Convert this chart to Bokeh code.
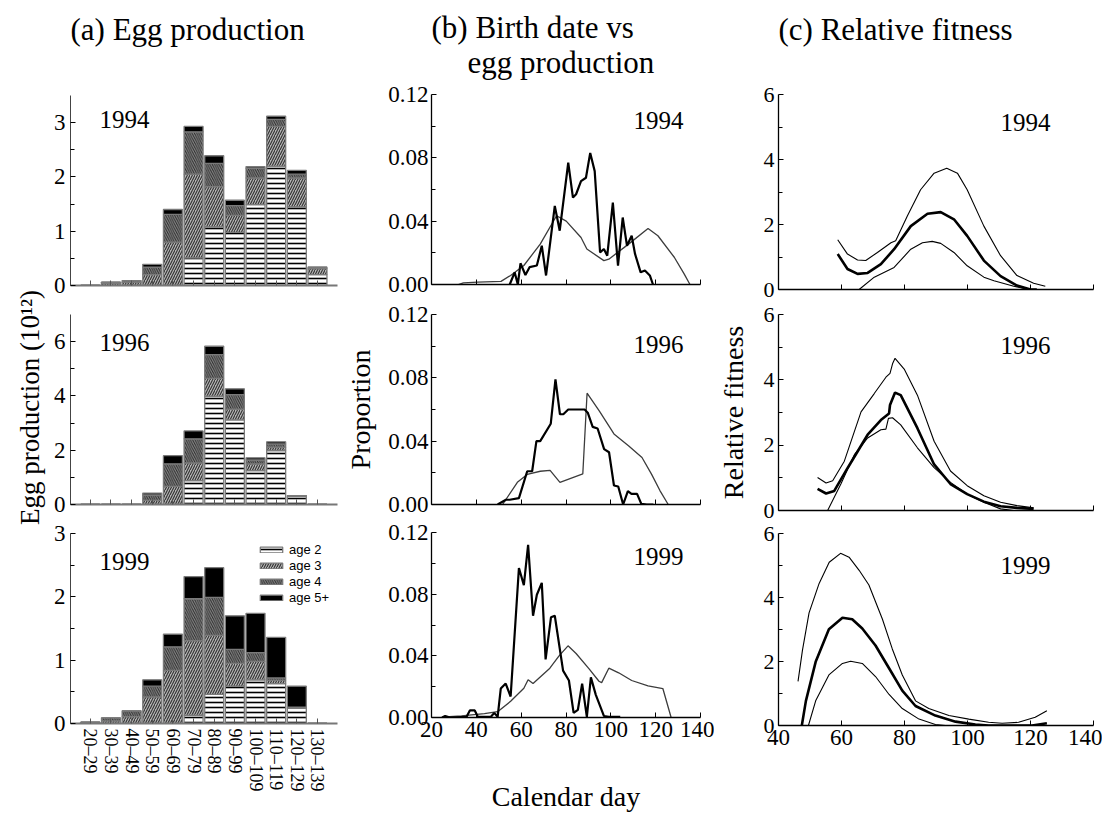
from bokeh.plotting import figure
from bokeh.layouts import row, column
from bokeh.models import (Range1d, FixedTicker, Label, Legend, LegendItem,
                          PrintfTickFormatter)
from bokeh.embed import file_html
from bokeh.resources import INLINE

SERIF = "Liberation Serif"
SANS = "Liberation Sans"

# ---------------- data: (a) egg production by age group (10^12) ----------------
age_groups = ["20–29", "30–39", "40–49", "50–59", "60–69", "70–79", "80–89",
              "90–99", "100–109", "110–119", "120–129", "130–139"]
ages = ["age 2", "age 3", "age 4", "age 5+"]
years = ["1994", "1996", "1999"]

egg94_age2 = [0, 0, 0, 0, 0, 0.51, 1.08, 0.98, 1.49, 2.20, 1.45, 0.20]
egg94_age3 = [0, 0.04, 0.06, 0.20, 0.80, 1.54, 0.74, 0.31, 0.49, 0.73, 0.53, 0.11]
egg94_age4 = [0, 0.02, 0.03, 0.14, 0.51, 0.78, 0.43, 0.18, 0.18, 0.13, 0.07, 0.03]
egg94_age5 = [0, 0, 0, 0.05, 0.09, 0.10, 0.14, 0.10, 0.03, 0.06, 0.07, 0]

egg96_age2 = [0, 0, 0, 0, 0, 0.88, 3.99, 3.12, 1.25, 1.99, 0.31, 0]
egg96_age3 = [0, 0, 0, 0.15, 0.67, 0.65, 0.66, 0.39, 0.25, 0.12, 0, 0]
egg96_age4 = [0, 0, 0, 0.20, 0.83, 0.89, 0.87, 0.54, 0.14, 0.12, 0, 0]
egg96_age5 = [0, 0, 0, 0.07, 0.30, 0.29, 0.31, 0.21, 0.08, 0.08, 0.02, 0]

egg99_age2 = [0, 0, 0, 0, 0, 0.13, 0.46, 0.59, 0.69, 0.63, 0.24, 0]
egg99_age3 = [0.02, 0.04, 0.11, 0.42, 0.84, 1.18, 0.93, 0.36, 0.29, 0.05, 0.02, 0]
egg99_age4 = [0, 0.05, 0.09, 0.17, 0.37, 0.66, 0.60, 0.22, 0.14, 0.04, 0, 0]
egg99_age5 = [0, 0, 0, 0.10, 0.20, 0.35, 0.47, 0.53, 0.62, 0.64, 0.33, 0]

# ---------------- data: (b) birth date (thick) vs egg production (thin) ----------------
birth94_day = [54.9, 57.1, 58.5, 59.7, 61.9, 63.8, 67.0, 69.2, 71.1, 75.0, 77.2, 81.0, 83.1,
               84.5, 86.7, 88.9, 90.8, 92.8, 95.2, 96.9, 98.4, 100.9, 103.2, 105.3, 107.2,
               109.3, 110.8, 113.3, 115.2, 117.4, 118.8]
birth94_prop = [0, 0.0077, 0, 0.0134, 0.006, 0.011, 0.012, 0.0245, 0.0057, 0.0496, 0.034,
                0.0769, 0.0549, 0.057, 0.0653, 0.0674, 0.0831, 0.0716, 0.0203, 0.0224, 0.0182,
                0.0517, 0.0119, 0.0423, 0.0245, 0.0308, 0.0193, 0.0077, 0.0088, 0.0057, 0]
eggp94_day = [32, 34.2, 40.7, 51, 55.3, 61.2, 68.5, 75.8, 80.1, 86.7, 89.3, 96.9, 99.1,
              107.9, 116.6, 121, 128.3, 132.7, 135.3]
eggp94_prop = [0, 0.001, 0.0015, 0.002, 0.0057, 0.012, 0.0255, 0.0434, 0.040, 0.0297, 0.0224,
               0.0151, 0.016, 0.0255, 0.0354, 0.0308, 0.0172, 0.0067, 0]

birth96_day = [49.5, 53.2, 54.9, 59.0, 62.7, 64.9, 66.8, 68.5, 73.2, 75.3, 77.3, 78.8, 81.0,
               84.6, 88.3, 89.7, 91.9, 94.1, 97.0, 99.2, 101.4, 103.3, 105.5, 107.6, 109.2,
               111.7, 113.6, 116.0, 119.0]
birth96_prop = [0, 0.003, 0.003, 0.004, 0.021, 0.021, 0.040, 0.040, 0.051, 0.079, 0.057,
                0.057, 0.060, 0.060, 0.060, 0.058, 0.049, 0.048, 0.035, 0.033, 0.012, 0.0114,
                0, 0.0084, 0.0067, 0.0067, 0.0004, 0, 0]
eggp96_day = [51.7, 58.3, 62.7, 68.5, 72.9, 77.3, 87.5, 89.4, 94.9, 101.4, 108.0, 113.9,
              118.2, 121.9, 125.6]
eggp96_prop = [0, 0.014, 0.019, 0.021, 0.0215, 0.014, 0.0194, 0.0703, 0.059, 0.0446, 0.037,
               0.0297, 0.019, 0.0088, 0]

birth99_day = [24.7, 26.1, 28.3, 35.6, 37.1, 39.3, 40.7, 46.6, 48.0, 49.5, 50.9, 53.1, 55.3,
               59.0, 61.2, 63.1, 65.3, 67.0, 69.2, 70.9, 73.3, 75.0, 78.7, 81.3, 83.4, 85.3,
               87.2, 89.3, 91.1, 93.3, 96.9, 99.1, 104.2]
birth99_prop = [0, 0.001, 0, 0.0004, 0.0046, 0.0046, 0.0004, 0.0006, 0.003, 0.0004, 0.0188,
                0.022, 0.0136, 0.097, 0.0859, 0.112, 0.066, 0.0796, 0.0873, 0.0377, 0.065,
                0.066, 0.0304, 0.024, 0.003, 0.005, 0.022, 0.0004, 0.026, 0.0147, 0.001,
                0.0004, 0.0004]
eggp99_day = [26.1, 33.4, 43.6, 49.5, 55.3, 61.2, 63.1, 65.3, 72.8, 76.9, 80.9, 84.5, 90.4,
              94.7, 95.9, 99.1, 103.5, 109.3, 116.6, 123.2, 126.9]
eggp99_prop = [0.0004, 0.001, 0.0025, 0.0038, 0.0105, 0.019, 0.0245, 0.022, 0.032, 0.040,
               0.0465, 0.0415, 0.0314, 0.0235, 0.0226, 0.032, 0.029, 0.024, 0.0205, 0.0188, 0]

# ---------------- data: (c) relative fitness (mean thick, bounds thin) ----------------
fit94_up_day = [58.8, 61.9, 65.1, 67.7, 71.4, 75.7, 77.2, 80.9, 85.1, 89.4, 93.4, 96.8, 99.9,
                105.2, 110.5, 115.7, 121.0, 124.7]
fit94_up = [1.53, 1.09, 0.91, 0.89, 1.14, 1.44, 1.50, 2.26, 3.07, 3.58, 3.73, 3.58, 3.07,
            1.95, 1.04, 0.43, 0.19, 0.10]
fit94_mid_day = [58.8, 61.9, 65.1, 68.3, 72.5, 76.7, 82.0, 87.3, 91.5, 95.7, 99.9, 105.2,
                 110.5, 115.7, 120.0, 122.0]
fit94_mid = [1.09, 0.63, 0.48, 0.51, 0.78, 1.24, 1.95, 2.33, 2.38, 2.16, 1.65, 0.89, 0.41,
             0.12, 0, 0]
fit94_lo_day = [65.6, 70.4, 76.7, 82.0, 85.7, 88.8, 91.5, 95.7, 99.9, 105.2, 108.4, 114.7, 119.4]
fit94_lo = [0, 0.38, 0.68, 1.24, 1.44, 1.48, 1.42, 1.14, 0.73, 0.38, 0.27, 0.10, 0]

fit96_up_day = [52.4, 55.1, 57.2, 60.9, 66.2, 70.4, 74.1, 75.4, 76.2, 77.0, 79.9, 84.1, 89.4,
                94.6, 99.9, 105.2, 110.5, 115.7, 121.0]
fit96_up = [1.01, 0.84, 0.91, 1.51, 3.02, 3.58, 4.08, 4.20, 4.49, 4.66, 4.33, 3.53, 2.12,
            1.21, 0.76, 0.45, 0.25, 0.15, 0.08]
fit96_mid_day = [52.4, 55.1, 57.7, 62.0, 68.3, 72.5, 75.1, 75.4, 77.0, 78.8, 84.1, 89.4, 94.6,
                 99.9, 105.2, 110.5, 115.7, 121.0]
fit96_mid = [0.66, 0.52, 0.60, 1.31, 2.32, 2.77, 2.97, 3.23, 3.61, 3.53, 2.52, 1.41, 0.81,
             0.50, 0.27, 0.13, 0.08, 0.05]
fit96_lo_day = [55.6, 59.8, 64.1, 68.3, 72.5, 74.1, 74.9, 76.2, 78.8, 84.1, 89.4, 94.6, 99.9,
                105.2, 110.5, 114.7, 121.0]
fit96_lo = [0, 0.81, 1.71, 2.22, 2.47, 2.49, 2.82, 2.84, 2.62, 1.92, 1.31, 0.86, 0.50, 0.25,
            0.05, 0, 0]

fit99_up_day = [46.2, 47.6, 49.7, 52.9, 56.1, 59.7, 62.4, 65.6, 68.7, 73.0, 76.1, 79.3, 83.5,
                87.7, 94.1, 100.4, 106.7, 111.0, 116.2, 121.5, 125.2]
fit99_up = [1.38, 2.35, 3.52, 4.44, 5.10, 5.38, 5.26, 4.85, 4.39, 3.32, 2.40, 1.58, 0.77,
            0.53, 0.31, 0.20, 0.10, 0.07, 0.10, 0.26, 0.46]
fit99_mid_day = [47.4, 48.7, 51.8, 56.0, 60.3, 63.4, 66.6, 70.8, 75.1, 79.3, 83.5, 89.8, 96.2,
                 102.5, 106.7, 120.5, 125.2]
fit99_mid = [0, 0.77, 1.99, 3.01, 3.37, 3.32, 3.03, 2.50, 1.79, 1.09, 0.61, 0.31, 0.12, 0.03,
             0, 0, 0.07]
fit99_lo_day = [49.5, 51.8, 56.0, 60.3, 62.9, 66.6, 70.8, 75.1, 79.3, 84.6, 89.8, 93.0]
fit99_lo = [0, 0.77, 1.58, 1.94, 2.01, 1.94, 1.53, 0.97, 0.53, 0.20, 0.03, 0]

# ---------------- styling ----------------
AGE_STYLES = [
    dict(fill_color="white", hatch_pattern="horizontal_line", hatch_color="black",
         hatch_scale=5, hatch_weight=1.6),
    dict(fill_color="#b4b4b4", hatch_pattern="right_diagonal_line", hatch_color="#303030",
         hatch_scale=5, hatch_weight=1.1),
    dict(fill_color="#2e2e2e", hatch_pattern="left_diagonal_line", hatch_color="#8c8c8c",
         hatch_scale=4.5, hatch_weight=1.0),
    dict(fill_color="black"),
]
TICK_FS = "23px"
HEADER_H = 80


def bare_fig(width, height, left=0):
    p = figure(width=width, height=height, x_range=Range1d(0, 1), y_range=Range1d(0, 1),
               min_border_left=left, min_border_right=0, min_border_top=0,
               min_border_bottom=0, x_axis_location=None,
               y_axis_location=("left" if left else None),
               output_backend="svg", toolbar_location=None, title=None)
    p.grid.visible = False
    p.outline_line_color = None
    p.background_fill_color = "white"
    p.border_fill_color = "white"
    return p


def header(width, lines):
    # header strip; its frame is aligned with the panels' frames below it
    p = bare_fig(width, HEADER_H)
    for text, x, y in lines:
        p.add_layout(Label(x=x, y=y, x_units="screen", y_units="screen", text=text,
                           text_font=SERIF, text_font_size="31px", text_color="black",
                           text_baseline="middle", text_align="left"))
    return p


def base_fig(width, height, left, right, top, bottom, xr, yr):
    p = figure(width=width, height=height, x_range=xr, y_range=yr,
               min_border_left=left, min_border_right=right,
               min_border_top=top, min_border_bottom=bottom,
               output_backend="svg", toolbar_location=None, title=None)
    p.grid.visible = False
    p.outline_line_color = None
    p.background_fill_color = "white"
    p.border_fill_color = "white"
    for ax in p.axis:
        ax.axis_line_color = "black"
        ax.axis_line_width = 1.3
        ax.major_tick_in = 5
        ax.major_tick_out = 0
        ax.minor_tick_in = 4
        ax.minor_tick_out = 0
        ax.major_tick_line_color = "black"
        ax.minor_tick_line_color = "black"
        ax.major_label_text_font = SERIF
        ax.major_label_text_font_size = TICK_FS
        ax.major_label_text_color = "black"
        ax.axis_label_text_font = SERIF
        ax.axis_label_text_font_style = "normal"
        ax.axis_label_text_font_size = "28px"
        ax.axis_label_text_color = "black"
    return p


def hide_x_labels(p):
    p.xaxis.major_label_text_font_size = "1px"
    p.xaxis.major_label_text_alpha = 0
    p.xaxis.major_label_standoff = 0


def year_label(p, text, x, y):
    p.add_layout(Label(x=x, y=y, x_units="screen", y_units="screen", text=text,
                       text_font=SERIF, text_font_size="25px", text_color="black",
                       text_baseline="middle", text_align="left"))


# ---------------- shared y label of column (a) ----------------
lab = bare_fig(50, 814, left=46)
lab.yaxis.ticker = FixedTicker(ticks=[])
lab.yaxis.axis_line_color = None
lab.yaxis.major_tick_line_color = None
lab.yaxis.minor_tick_line_color = None
lab.yaxis.major_label_standoff = 0
lab.yaxis.axis_label = "Egg production (10¹²)"
lab.yaxis.axis_label_text_font = SERIF
lab.yaxis.axis_label_text_font_style = "normal"
lab.yaxis.axis_label_text_font_size = "27px"
lab.yaxis.axis_label_text_color = "black"
lab.yaxis.axis_label_standoff = 2


# ---------------- column (a) ----------------
def egg_panel(h, top, bottom, ymax, major, minor, parts, year, ypos, show_x):
    p = base_fig(292, h, 18, 5, top, bottom, Range1d(-0.96, 11.97), Range1d(0, ymax))
    x = list(range(len(age_groups)))
    bottoms = [0.0] * len(x)
    rends = []
    for vals, st in zip(parts, AGE_STYLES):
        tops = [b + v for b, v in zip(bottoms, vals)]
        r = p.vbar(x=x, bottom=bottoms, top=tops, width=0.92,
                   line_color="#7a7a7a", line_width=1.3, **st)
        rends.append(r)
        bottoms = tops
    p.xaxis.ticker = FixedTicker(ticks=x)
    p.xaxis.major_label_overrides = {i: g for i, g in enumerate(age_groups)}
    p.xaxis.major_label_orientation = "vertical"
    p.xaxis.major_label_text_font_size = "18px"
    p.xaxis.axis_line_color = "#777777"
    p.xaxis.axis_line_width = 2
    p.xaxis.major_tick_line_color = "#555555"
    p.yaxis.ticker = FixedTicker(ticks=major, minor_ticks=minor)
    p.yaxis.major_label_standoff = 5
    p.yaxis.axis_line_color = "#444444"
    p.yaxis.axis_line_width = 1
    if not show_x:
        hide_x_labels(p)
    year_label(p, year, 29, ypos)
    return p, rends


ha = header(292, [("(a) Egg production", 0, 51.5)])
a1, _ = egg_panel(220, 15, 15, 3.5, [0, 1, 2, 3], [0.5, 1.5, 2.5],
                  [egg94_age2, egg94_age3, egg94_age4, egg94_age5], years[0], 166, False)
a2, _ = egg_panel(219, 14, 15, 7, [0, 2, 4, 6], [1, 3, 5],
                  [egg96_age2, egg96_age3, egg96_age4, egg96_age5], years[1], 162, False)
a3, rends99 = egg_panel(295, 14, 91, 3, [0, 1, 2, 3], [0.5, 1.5, 2.5],
                        [egg99_age2, egg99_age3, egg99_age4, egg99_age5], years[2], 162, True)
a3.xaxis.major_label_standoff = 5

leg = Legend(items=[LegendItem(label=lb, renderers=[r]) for lb, r in zip(ages, rends99)],
             location=(187, 118))
leg.background_fill_alpha = 0
leg.border_line_color = None
leg.padding = 0
leg.margin = 0
leg.spacing = 1
leg.glyph_width = 28
leg.glyph_height = 7
leg.label_height = 13
leg.label_standoff = 4
leg.label_text_font = SANS
leg.label_text_font_size = "13px"
leg.label_text_color = "black"
a3.add_layout(leg, "center")


# ---------------- column (b) ----------------
def prop_panel(h, top, bottom, birth_d, birth_p, egg_d, egg_p, year, ypos, ylab, show_x):
    p = base_fig(372, h, 84, 14, top, bottom, Range1d(20, 140), Range1d(0, 0.12))
    p.line(egg_d, egg_p, line_color="#3c3c3c", line_width=1.3)
    p.line(birth_d, birth_p, line_color="black", line_width=2.2)
    p.xaxis.ticker = FixedTicker(ticks=[20, 40, 60, 80, 100, 120, 140], minor_ticks=[])
    p.yaxis.ticker = FixedTicker(ticks=[0, 0.04, 0.08, 0.12], minor_ticks=[0.02, 0.06, 0.10])
    p.yaxis.formatter = PrintfTickFormatter(format="%.2f")
    p.yaxis.major_label_standoff = 3
    if not show_x:
        hide_x_labels(p)
    if ylab:
        p.yaxis.axis_label = ylab
        p.yaxis.axis_label_standoff = 9
    year_label(p, year, 202, ypos)
    return p


hb = header(372, [("(b) Birth date vs", 0, 53.5), ("egg production", 36, 18.5)])
b1 = prop_panel(219, 14, 15, birth94_day, birth94_prop, eggp94_day, eggp94_prop,
                years[0], 164, None, False)
b2 = prop_panel(219, 15, 14, birth96_day, birth96_prop, eggp96_day, eggp96_prop,
                years[1], 160, "Proportion", False)
b3 = prop_panel(296, 14, 91, birth99_day, birth99_prop, eggp99_day, eggp99_prop,
                years[2], 161, None, True)
b3.xaxis.axis_label = "Calendar day"
b3.xaxis.axis_label_standoff = 41
b3.xaxis.major_label_standoff = 4


# ---------------- column (c) ----------------
def fit_panel(h, top, bottom, up_d, up, mid_d, mid, lo_d, lo, year, ypos, ylab, show_x):
    p = base_fig(388, h, 63, 9, top, bottom, Range1d(40, 140), Range1d(0, 6))
    p.line(up_d, up, line_color="black", line_width=1.1)
    p.line(lo_d, lo, line_color="black", line_width=1.1)
    p.line(mid_d, mid, line_color="black", line_width=2.6)
    p.xaxis.ticker = FixedTicker(ticks=[40, 60, 80, 100, 120, 140], minor_ticks=[])
    p.yaxis.ticker = FixedTicker(ticks=[0, 2, 4, 6], minor_ticks=[1, 3, 5])
    p.yaxis.major_label_standoff = 4
    p.yaxis.major_label_text_font_size = "22px"
    if not show_x:
        hide_x_labels(p)
    if ylab:
        p.yaxis.axis_label = ylab
        p.yaxis.axis_label_standoff = 12
    year_label(p, year, 222, ypos)
    return p


hc = header(388, [("(c) Relative fitness", 0, 51.5)])
c1 = fit_panel(222, 14, 13, fit94_up_day, fit94_up, fit94_mid_day, fit94_mid,
               fit94_lo_day, fit94_lo, years[0], 167, None, False)
c2 = fit_panel(220, 12, 12, fit96_up_day, fit96_up, fit96_mid_day, fit96_mid,
               fit96_lo_day, fit96_lo, years[1], 165, "Relative fitness", False)
c3 = fit_panel(292, 11, 89, fit99_up_day, fit99_up, fit99_mid_day, fit99_mid,
               fit99_lo_day, fit99_lo, years[2], 160, None, True)
c3.xaxis.major_label_standoff = 4

layout = row(lab,
             column(ha, a1, a2, a3, spacing=0),
             column(hb, b1, b2, b3, spacing=0),
             column(hc, c1, c2, c3, spacing=0), spacing=0)

open("out.html", "w").write(file_html(layout, INLINE))
